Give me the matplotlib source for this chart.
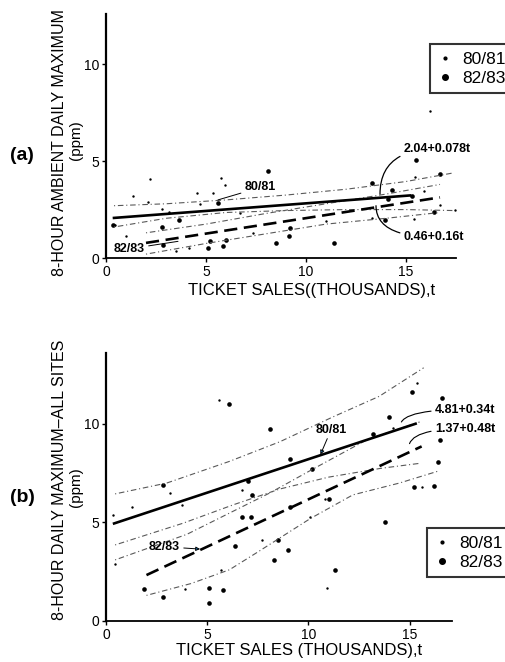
import matplotlib.pyplot as plt
from matplotlib.lines import Line2D

plt.rcParams['font.family'] = ['Liberation Sans', 'DejaVu Sans']

# ---- panel (a): 8-hour ambient daily maximum ----
a_t_8081 = [0.45, 1.0, 1.37, 2.08, 2.2, 2.8, 3.17, 3.5, 4.17, 4.56, 4.7, 5.37, 5.73, 5.95,
            6.7, 7.35, 11.0, 13.3, 15.4, 15.45, 15.9, 16.2, 16.7, 17.45]
a_v_8081 = [1.72, 1.14, 3.2, 2.9, 4.07, 2.55, 2.4, 0.35, 0.5, 3.35, 2.8, 3.35, 4.15, 3.78,
            2.3, 1.3, 1.9, 2.07, 2.0, 4.2, 3.45, 7.6, 2.76, 2.5]
a_t_8283 = [0.37, 2.8, 2.87, 3.65, 5.1, 5.2, 5.6, 5.87, 6.0, 8.1, 8.5, 9.15, 9.2, 11.4,
            13.3, 13.95, 14.1, 14.3, 15.3, 15.5, 16.4, 16.7]
a_v_8283 = [1.7, 1.6, 0.67, 1.97, 0.5, 0.88, 2.86, 0.62, 0.93, 4.5, 0.76, 1.15, 1.55, 0.78,
            3.86, 1.98, 3.05, 3.53, 3.2, 5.07, 2.4, 4.34]
# fitted lines (end points) and confidence bands
a_fit_8081_t = [0.4, 15.2]
a_fit_8081_v = [2.07, 3.23]
a_fit_8283_t = [2.0, 16.7]
a_fit_8283_v = [0.78, 3.13]
a_band_8081_t = [0.4, 3, 6, 9, 12, 15, 17.4]
a_band_8081_hi = [2.7, 2.8, 3.0, 3.25, 3.55, 3.95, 4.4]
a_band_8081_lo = [1.6, 2.05, 2.35, 2.45, 2.5, 2.5, 2.45]
a_band_8283_t = [2, 5, 8, 11, 14, 16.7]
a_band_8283_hi = [1.3, 1.75, 2.3, 2.8, 3.3, 3.8]
a_band_8283_lo = [0.2, 0.75, 1.25, 1.75, 2.05, 2.35]

# ---- panel (b): 8-hour daily maximum, all sites ----
b_t_8081 = [0.36, 0.45, 1.27, 3.17, 3.75, 3.9, 5.56, 5.7, 6.7, 7.7, 10.1, 10.8, 10.9,
            13.2, 14.2, 15.35, 15.6, 15.75]
b_v_8081 = [5.4, 2.9, 5.8, 6.5, 5.9, 1.6, 11.2, 2.6, 6.65, 4.1, 5.3, 6.2, 1.65,
            9.45, 9.8, 12.1, 6.8, 13.8]
b_t_8283 = [1.9, 2.8, 2.8, 5.1, 5.1, 5.8, 6.1, 6.4, 6.7, 7.0, 7.15, 7.2, 8.1, 8.3, 8.5,
            9.0, 9.1, 9.1, 10.2, 11.0, 11.3, 13.2, 13.8, 14.0, 15.1, 15.2, 16.2, 16.4,
            16.5, 16.6]
b_v_8283 = [1.6, 1.2, 6.9, 1.7, 0.9, 1.56, 11.0, 3.8, 5.3, 7.1, 5.3, 6.4, 9.75, 3.1, 4.1,
            3.6, 8.2, 5.8, 7.7, 6.2, 2.6, 9.5, 5.0, 10.35, 11.6, 6.8, 6.86, 8.05,
            9.2, 11.3]
b_fit_8081_t = [0.4, 15.3]
b_fit_8081_v = [4.95, 10.01]
b_fit_8283_t = [2.0, 15.6]
b_fit_8283_v = [2.33, 8.86]
b_band_8081_t = [0.45, 3, 6.1, 8.6, 11.2, 13.5, 15.7]
b_band_8081_hi = [6.45, 7.0, 8.1, 9.1, 10.35, 11.4, 12.85]
b_band_8081_lo_t = [0.45, 3.8, 6.3, 8.6, 11.0, 13.6, 15.5]
b_band_8081_lo = [3.86, 4.96, 5.9, 6.7, 7.3, 7.75, 8.0]
b_band_8283_hi_t = [0.45, 4.0, 8.1, 10.3, 12.9, 15.5]
b_band_8283_hi = [3.1, 4.4, 6.5, 7.75, 9.2, 10.1]
b_band_8283_lo_t = [2.0, 4.2, 6.1, 7.5, 10.1, 12.2, 14.5, 16.4]
b_band_8283_lo = [1.3, 1.9, 2.6, 3.5, 5.2, 6.4, 7.0, 7.6]

W, H = 506, 662
fig = plt.figure(figsize=(W / 100, H / 100), dpi=100)


def axes_px(left, right, bottom, top):
    return fig.add_axes([left / W, 1 - bottom / H, (right - left) / W, (bottom - top) / H])


def style(ax, ymax, xmax):
    ax.set_xlim(0, xmax)
    ax.set_ylim(0, ymax)
    for s in ['top', 'right']:
        ax.spines[s].set_visible(False)
    ax.spines['left'].set_linewidth(1.6)
    ax.spines['bottom'].set_linewidth(1.3)
    ax.set_xticks([0, 5, 10, 15])
    ax.set_yticks([0, 5, 10])
    ax.tick_params(length=3, width=1, labelsize=10, pad=2)


band = dict(color='0.35', lw=0.8, ls=(0, (1, 2.5, 5, 2.5)))
note = dict(fontsize=9, va='center', fontweight='bold')

ax1 = axes_px(106, 456, 258, 14)
style(ax1, 12.6, 17.5)
ax1.plot(a_band_8081_t, a_band_8081_hi, **band)
ax1.plot(a_band_8081_t, a_band_8081_lo, **band)
ax1.plot(a_band_8283_t, a_band_8283_hi, **band)
ax1.plot(a_band_8283_t, a_band_8283_lo, **band)
ax1.plot(a_fit_8081_t, a_fit_8081_v, color='black', lw=1.9)
ax1.plot(a_fit_8283_t, a_fit_8283_v, color='black', lw=1.9, ls=(0, (5, 2.5)))
ax1.scatter(a_t_8081, a_v_8081, s=3, color='black', lw=0)
ax1.scatter(a_t_8283, a_v_8283, s=11, color='black', lw=0)
ax1.annotate('80/81', xy=(5.6, 3.0), xytext=(6.95, 3.65), **note,
             arrowprops=dict(arrowstyle='-', lw=0.7, shrinkA=1, shrinkB=0))
ax1.annotate('82/83', xy=(3.6, 0.86), xytext=(0.37, 0.47), **note,
             arrowprops=dict(arrowstyle='-', lw=0.7, shrinkA=1, shrinkB=0))
ax1.annotate('2.04+0.078t', xy=(13.7, 3.3), xytext=(14.9, 5.64), **note,
             annotation_clip=False,
             arrowprops=dict(arrowstyle='-', lw=0.9, shrinkA=1, shrinkB=0,
                             connectionstyle='angle3,angleA=180,angleB=90'))
ax1.annotate('0.46+0.16t', xy=(13.5, 2.7), xytext=(14.9, 1.09), **note,
             annotation_clip=False,
             arrowprops=dict(arrowstyle='-', lw=0.9, shrinkA=1, shrinkB=0,
                             connectionstyle='angle3,angleA=180,angleB=90'))

ax2 = axes_px(106, 452, 621, 353)
style(ax2, 13.6, 17.1)
ax2.plot(b_band_8081_t, b_band_8081_hi, **band)
ax2.plot(b_band_8081_lo_t, b_band_8081_lo, **band)
ax2.plot(b_band_8283_hi_t, b_band_8283_hi, **band)
ax2.plot(b_band_8283_lo_t, b_band_8283_lo, **band)
ax2.plot(b_fit_8081_t, b_fit_8081_v, color='black', lw=1.9)
ax2.plot(b_fit_8283_t, b_fit_8283_v, color='black', lw=1.9, ls=(0, (5, 2.5)))
ax2.scatter(b_t_8081, b_v_8081, s=3, color='black', lw=0)
ax2.scatter(b_t_8283, b_v_8283, s=11, color='black', lw=0)
ax2.annotate('80/81', xy=(10.6, 8.45), xytext=(10.35, 9.7), **note,
             arrowprops=dict(arrowstyle='-|>', lw=0.7, mutation_scale=6,
                             shrinkA=0, shrinkB=0))
ax2.annotate('82/83', xy=(4.65, 3.65), xytext=(2.1, 3.77), **note,
             arrowprops=dict(arrowstyle='-|>', lw=0.7, mutation_scale=6,
                             shrinkA=1, shrinkB=0))
ax2.annotate('4.81+0.34t', xy=(14.6, 10.1), xytext=(16.27, 10.73), **note,
             annotation_clip=False,
             arrowprops=dict(arrowstyle='-', lw=0.8, shrinkA=1, shrinkB=0,
                             connectionstyle='angle3,angleA=180,angleB=60'))
ax2.annotate('1.37+0.48t', xy=(15.0, 9.0), xytext=(16.27, 9.76), **note,
             annotation_clip=False,
             arrowprops=dict(arrowstyle='-', lw=0.8, shrinkA=1, shrinkB=0,
                             connectionstyle='angle3,angleA=180,angleB=70'))

# axis titles and panel letters
fig.text(312 / W, 1 - 290 / H, 'TICKET SALES((THOUSANDS),t', ha='center', va='center',
         fontsize=12)
fig.text(299 / W, 1 - 650 / H, 'TICKET SALES (THOUSANDS),t', ha='center', va='center',
         fontsize=12)
fig.text(60 / W, 1 - 142 / H, '8-HOUR AMBIENT DAILY MAXIMUM', rotation=90,
         ha='center', va='center', fontsize=11.5)
fig.text(76 / W, 1 - 140 / H, '(ppm)', rotation=90, ha='center', va='center', fontsize=11)
fig.text(60 / W, 1 - 480 / H, '8-HOUR DAILY MAXIMUM\u2013ALL SITES', rotation=90,
         ha='center', va='center', fontsize=11.5)
fig.text(76 / W, 1 - 487 / H, '(ppm)', rotation=90, ha='center', va='center', fontsize=11)
fig.text(22 / W, 1 - 155 / H, '(a)', ha='center', va='center', fontsize=14,
         fontweight='bold')
fig.text(22 / W, 1 - 498 / H, '(b)', ha='center', va='center', fontsize=14,
         fontweight='bold')

handles = [Line2D([], [], ls='', marker='o', ms=2, color='black', label='80/81'),
           Line2D([], [], ls='', marker='o', ms=4, color='black', label='82/83')]
for bx, by in [(430, 44), (427, 528)]:
    leg = fig.legend(handles=handles, loc='upper left', bbox_to_anchor=(bx / W, 1 - by / H),
                     fontsize=12.5, frameon=True, fancybox=False, edgecolor='black',
                     handlelength=0.8, handletextpad=0.6, borderpad=0.45,
                     labelspacing=0.2, borderaxespad=0)
    leg.get_frame().set_linewidth(1.5)

fig.savefig('out.png', dpi=100)
